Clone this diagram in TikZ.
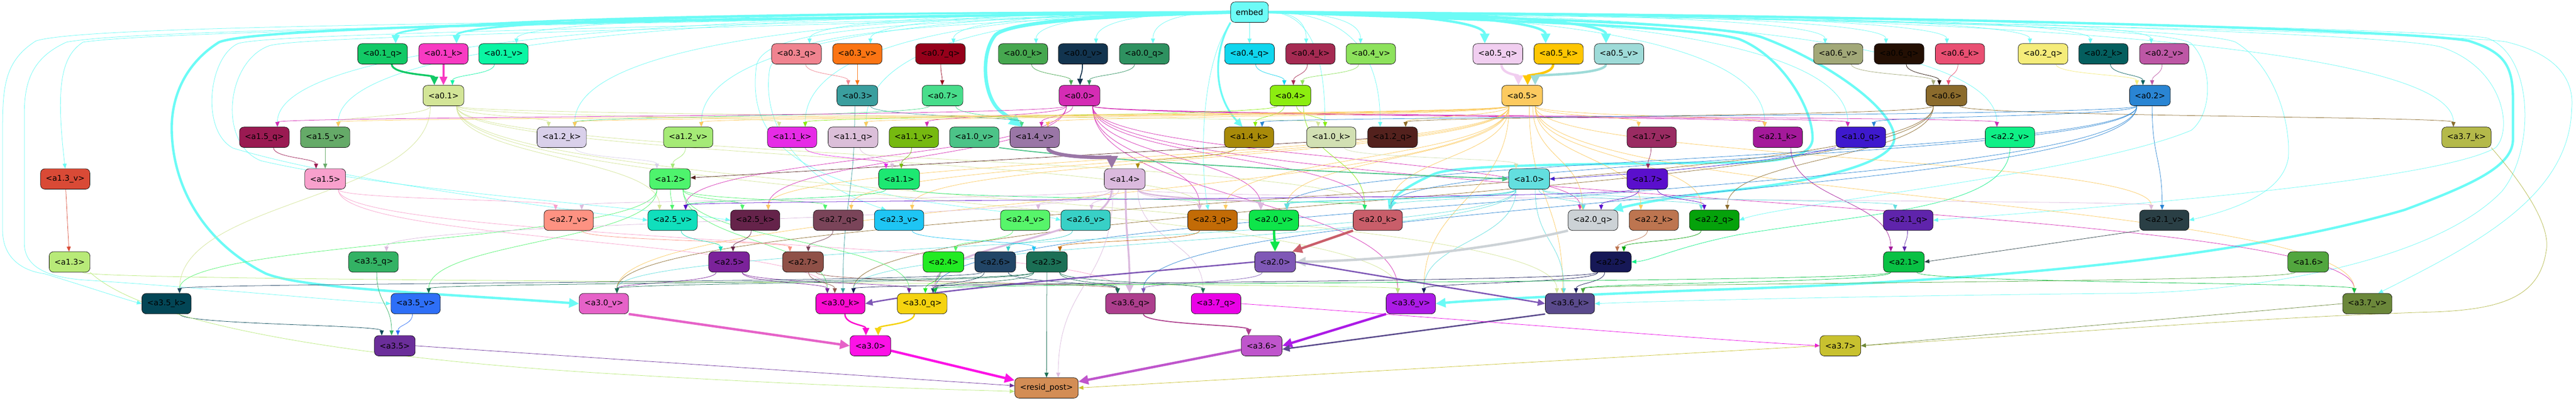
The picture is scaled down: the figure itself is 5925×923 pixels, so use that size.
\documentclass[tikz,border=0pt]{standalone}
\usepackage{fontspec}
\setmainfont{DejaVu Sans}
\usetikzlibrary{arrows.meta,calc}
\pgfdeclarelayer{bg}
\pgfsetlayers{bg,main}
\tikzset{
  nd/.style={draw=black,line width=0.8pt,rounded corners=10pt,minimum height=47pt,inner xsep=12pt,inner ysep=0pt,font=\fontsize{18}{20}\selectfont,text=black},
  ed/.style={line width=0.9pt,-{Triangle[length=9pt 2.5,width=7pt 2.5]}},
  w2/.style={line width=2.2pt},
  w3/.style={line width=3.2pt},
  w4/.style={line width=4.2pt},
  w5/.style={line width=5.5pt},
  w8/.style={line width=8pt},
  dn/.style={to path={let \p1=(\tikztostart.south), \p2=(\tikztotarget.north), \n1={\x1+max(-30,min(30,0.15*(\x2-\x1)))}, \n2={\x2+max(-30,min(30,0.15*(\x1-\x2)))}, \n3={0.5*\y1+0.5*\y2} in (\n1,\y1) .. controls (\n1,\n3) and (\n2,\n3) .. (\n2,\y2)}},
  eL/.style={to path={let \p1=(\tikztostart.west), \p2=(\tikztotarget.north), \n1={\x1-0.6*(\x1-\x2)}, \n2={\y2+0.7*(\y1-\y2)}, \n3={\x2+max(-30,min(30,0.1*(\x1-\x2)))} in (\p1) .. controls (\n1,\y1) and (\n3,\n2) .. (\n3,\y2)}},
  eR/.style={to path={let \p1=(\tikztostart.east), \p2=(\tikztotarget.north), \n1={\x1+0.6*(\x2-\x1)}, \n2={\y2+0.7*(\y1-\y2)}, \n3={\x2-max(-30,min(30,0.1*(\x2-\x1)))} in (\p1) .. controls (\n1,\y1) and (\n3,\n2) .. (\n3,\y2)}}
}
\newcommand\addnode[5]{\definecolor{C#1}{HTML}{#5}\node[nd,fill=C#1] (#1) at (#2,-#3) {#4};}
\newcommand\edgeA[3][]{\draw[ed,draw=C#2,#1] (#2) to[dn] (#3);}
\newcommand\edgeL[2][]{\draw[ed,draw=Cembed,#1] (embed) to[eL] (#2);}
\newcommand\edgeR[2][]{\draw[ed,draw=Cembed,#1] (embed) to[eR] (#2);}
\begin{document}
\begin{tikzpicture}[x=1pt,y=1pt]
\useasboundingbox (0,0) rectangle (5925,-923);
% ---------- nodes ----------
\addnode{embed}{2874}{28}{embed}{6CFBF6}
\addnode{a01q}{880}{124}{<a0.1\_q>}{12C966}
\addnode{a01k}{1020}{124}{<a0.1\_k>}{F83AC2}
\addnode{a01v}{1158}{124}{<a0.1\_v>}{0AF5A3}
\addnode{a03q}{1832}{124}{<a0.3\_q>}{F0838F}
\addnode{a03v}{1972}{124}{<a0.3\_v>}{FB7413}
\addnode{a07q}{2163}{124}{<a0.7\_q>}{95001A}
\addnode{a00k}{2353}{124}{<a0.0\_k>}{46A74F}
\addnode{a00v}{2491}{124}{<a0.0\_v>}{12344F}
\addnode{a00q}{2632}{124}{<a0.0\_q>}{2E9160}
\addnode{a04q}{2874}{124}{<a0.4\_q>}{10D6EE}
\addnode{a04k}{3014}{124}{<a0.4\_k>}{A52A52}
\addnode{a04v}{3153}{124}{<a0.4\_v>}{8DE25C}
\addnode{a05q}{3445}{124}{<a0.5\_q>}{F1CEF0}
\addnode{a05k}{3585}{124}{<a0.5\_k>}{FEC602}
\addnode{a05v}{3724}{124}{<a0.5\_v>}{9EDBD8}
\addnode{a06v}{4228}{124}{<a0.6\_v>}{A2A878}
\addnode{a06q}{4368}{124}{<a0.6\_q>}{230F03}
\addnode{a06k}{4508}{124}{<a0.6\_k>}{E94F72}
\addnode{a02q}{4699}{124}{<a0.2\_q>}{F5EC7A}
\addnode{a02k}{4838}{124}{<a0.2\_k>}{045E5E}
\addnode{a02v}{4978}{124}{<a0.2\_v>}{BD57A5}
\addnode{a01}{1020}{220}{<a0.1>}{D3E597}
\addnode{a03}{1972}{220}{<a0.3>}{3A9E9E}
\addnode{a07}{2168}{220}{<a0.7>}{48DD8B}
\addnode{a00}{2483}{220}{<a0.0>}{D42CB4}
\addnode{a04}{2968}{220}{<a0.4>}{8CED10}
\addnode{a05}{3501}{220}{<a0.5>}{FCCA5F}
\addnode{a06}{4477}{220}{<a0.6>}{8B6B2C}
\addnode{a02}{4945}{220}{<a0.2>}{2A85D3}
\addnode{a15q}{608}{316}{<a1.5\_q>}{9A1A52}
\addnode{a15v}{748}{316}{<a1.5\_v>}{65AA68}
\addnode{a12k}{1292}{316}{<a1.2\_k>}{D9D0EA}
\addnode{a12v}{1583}{316}{<a1.2\_v>}{A5EA76}
\addnode{a11k}{1822}{316}{<a1.1\_k>}{E62BE6}
\addnode{a11q}{1962}{316}{<a1.1\_q>}{DBBFD9}
\addnode{a11v}{2102}{316}{<a1.1\_v>}{76B910}
\addnode{a10v}{2241}{316}{<a1.0\_v>}{4CC388}
\addnode{a14v}{2380}{316}{<a1.4\_v>}{9A76A6}
\addnode{a14k}{2873}{316}{<a1.4\_k>}{A88A09}
\addnode{a10k}{3062}{316}{<a1.0\_k>}{D2E0B3}
\addnode{a12q}{3203}{316}{<a1.2\_q>}{53211D}
\addnode{a17v}{3799}{316}{<a1.7\_v>}{9A2B62}
\addnode{a21k}{4089}{316}{<a2.1\_k>}{A4199A}
\addnode{a10q}{4280}{316}{<a1.0\_q>}{3E19CE}
\addnode{a22v}{4623}{316}{<a2.2\_v>}{0FF086}
\addnode{a37k}{5673}{316}{<a3.7\_k>}{B4B94A}
\addnode{a13v}{150}{412}{<a1.3\_v>}{D94A36}
\addnode{a15}{748}{412}{<a1.5>}{F8A0CC}
\addnode{a12}{1541}{412}{<a1.2>}{4EF46D}
\addnode{a11}{2068}{412}{<a1.1>}{1DE872}
\addnode{a14}{2587}{412}{<a1.4>}{DBBADE}
\addnode{a10}{3517}{412}{<a1.0>}{63DFDF}
\addnode{a17}{3789}{412}{<a1.7>}{5A0FCC}
\addnode{a27v}{1308}{507}{<a2.7\_v>}{FD9282}
\addnode{a25v}{1547}{507}{<a2.5\_v>}{10DFBC}
\addnode{a25k}{1737}{507}{<a2.5\_k>}{65234A}
\addnode{a27q}{1928}{507}{<a2.7\_q>}{7A4459}
\addnode{a23v}{2068}{507}{<a2.3\_v>}{1EC5F4}
\addnode{a24v}{2358}{507}{<a2.4\_v>}{57F56A}
\addnode{a26v}{2497}{507}{<a2.6\_v>}{38D0C6}
\addnode{a23q}{2789}{507}{<a2.3\_q>}{C26B06}
\addnode{a20v}{2930}{507}{<a2.0\_v>}{0EE54A}
\addnode{a20k}{3169}{507}{<a2.0\_k>}{C95E6A}
\addnode{a20q}{3664}{507}{<a2.0\_q>}{CCD2D6}
\addnode{a22k}{3804}{507}{<a2.2\_k>}{BD7550}
\addnode{a22q}{3943}{507}{<a2.2\_q>}{05A20B}
\addnode{a21q}{4389}{507}{<a2.1\_q>}{5F24AB}
\addnode{a21v}{4978}{507}{<a2.1\_v>}{2A3F45}
\addnode{a13}{160}{603}{<a1.3>}{B8EA78}
\addnode{a35q}{859}{603}{<a3.5\_q>}{33B264}
\addnode{a25}{1677}{603}{<a2.5>}{7B229A}
\addnode{a27}{1847}{603}{<a2.7>}{8F5047}
\addnode{a24}{2170}{603}{<a2.4>}{22EA23}
\addnode{a26}{2289}{603}{<a2.6>}{224566}
\addnode{a23}{2408}{603}{<a2.3>}{1B6F55}
\addnode{a20}{2933}{603}{<a2.0>}{7F58B6}
\addnode{a22}{3705}{603}{<a2.2>}{161856}
\addnode{a21}{4379}{603}{<a2.1>}{09C144}
\addnode{a16}{5309}{603}{<a1.6>}{52A63E}
\addnode{a35k}{383}{699}{<a3.5\_k>}{034656}
\addnode{a35v}{956}{699}{<a3.5\_v>}{2E6FF7}
\addnode{a30v}{1389}{699}{<a3.0\_v>}{E662C8}
\addnode{a30k}{1933}{699}{<a3.0\_k>}{FB0BD0}
\addnode{a30q}{2121}{699}{<a3.0\_q>}{F5D30F}
\addnode{a36q}{2600}{699}{<a3.6\_q>}{AD3E8D}
\addnode{a37q}{2797}{699}{<a3.7\_q>}{EA02E6}
\addnode{a36v}{3245}{699}{<a3.6\_v>}{AC1BE6}
\addnode{a36k}{3611}{699}{<a3.6\_k>}{5A4A8C}
\addnode{a37v}{5445}{699}{<a3.7\_v>}{6B873A}
\addnode{a35}{908}{796}{<a3.5>}{6B2E9A}
\addnode{a30}{2002}{796}{<a3.0>}{FC12E6}
\addnode{a36}{2902}{796}{<a3.6>}{BF55CC}
\addnode{a37}{4233}{796}{<a3.7>}{C8C12F}
\addnode{resid}{2407}{893}{<resid\_post>}{D38D55}
% ---------- edges ----------
\begin{pgfonlayer}{bg}
\fill[white] (0,0) rectangle (5925,-923);
% embed -> row1
\edgeL[w4]{a01q}\edgeL[w4]{a01k}\edgeL{a01v}\edgeL{a03q}\edgeL{a03v}\edgeL{a07q}
\edgeL{a00k}\edgeL{a00v}\edgeL{a00q}
\draw[ed,draw=Cembed] (embed) -- (a04q);
\edgeR{a04k}\edgeR{a04v}\edgeR[w5]{a05q}\edgeR[w5]{a05k}\edgeR[w5]{a05v}
\edgeR{a06v}\edgeR{a06q}\edgeR{a06k}\edgeR{a02q}\edgeR{a02k}\edgeR{a02v}
% embed -> deeper
\edgeL{a15q}\edgeL{a15v}\edgeL{a12k}\edgeL{a12v}\edgeL{a11k}\edgeL{a11q}
\edgeR{a12q}\edgeR{a10k}\edgeR{a10q}\edgeR{a21k}\edgeR{a22v}\edgeR{a37k}
\draw[ed,draw=Cembed] (embed.west) .. controls (1000,-60) and (350,-75) .. (191,-97) .. controls (140,-130) and (128,-200) .. (a13v.north);
\draw[ed,draw=Cembed] (embed.west) .. controls (1000,-55) and (200,-60) .. (83,-94) .. controls (10,-140) and (6,-200) .. (6,-300) -- (6,-530) .. controls (6,-600) and (60,-625) .. (102,-630) .. controls (200,-660) and (290,-690) .. (a35k.west);
\draw[ed,draw=Cembed] (embed.west) .. controls (1000,-60) and (300,-70) .. (153,-97) .. controls (80,-130) and (56,-180) .. (56,-260) -- (56,-560) .. controls (56,-620) and (120,-640) .. (200,-645) .. controls (500,-665) and (750,-690) .. (a35v.west);
\draw[ed,draw=Cembed,w5] (embed.west) .. controls (1500,-45) and (600,-60) .. (504,-97) .. controls (420,-150) and (395,-230) .. (395,-294) .. controls (395,-430) and (470,-560) .. (612,-630) .. controls (700,-665) and (1000,-675) .. (a30v.west);
\draw[ed,draw=Cembed] (embed.west) .. controls (1200,-70) and (620,-80) .. (548,-100) .. controls (480,-130) and (460,-300) .. (536,-341) .. controls (800,-420) and (1300,-480) .. (a25v.west);
\draw[ed,draw=Cembed] (embed.west) .. controls (1300,-75) and (700,-85) .. (620,-105) .. controls (520,-140) and (500,-330) .. (600,-370) .. controls (900,-440) and (1500,-480) .. (a25k.west);
\draw[ed,draw=Cembed] (embed.west) .. controls (2000,-50) and (1760,-70) .. (1740,-150) .. controls (1720,-300) and (1800,-400) .. (2100,-460) .. controls (2300,-490) and (2400,-495) .. (a26v.west);
\draw[ed,draw=Cembed] (embed.west) .. controls (2100,-55) and (1790,-75) .. (1770,-160) .. controls (1750,-300) and (1850,-420) .. ([xshift=-30pt]a23v.north);
\draw[ed,draw=Cembed,w8] (embed.west) .. controls (2600,-35) and (2330,-45) .. (2290,-80) .. controls (2255,-120) and (2260,-220) .. (2300,-255) .. controls (2320,-270) and (2335,-280) .. ([xshift=-30pt]a14v.north);
\draw[ed,draw=Cembed,w4] (embed.south west) .. controls (2790,-120) and (2790,-220) .. ([xshift=-15pt]a14k.north);
\draw[ed,draw=Cembed] (embed.south west) .. controls (2760,-150) and (2760,-380) .. ([xshift=-10pt]a23q.north);
\draw[ed,draw=Cembed,w5] (embed.east) .. controls (3400,-45) and (3900,-60) .. (4000,-90) .. controls (4100,-130) and (4169,-250) .. (4169,-318) .. controls (4169,-360) and (4100,-372) .. (4000,-374) .. controls (3600,-378) and (3350,-380) .. (3300,-400) .. controls (3230,-430) and (3205,-455) .. ([xshift=25pt]a20k.north);
\draw[ed,draw=Cembed,w5] (embed.east) .. controls (3500,-40) and (3950,-55) .. (4050,-85) .. controls (4200,-140) and (4357,-250) .. (4357,-318) .. controls (4357,-380) and (4150,-420) .. (4000,-436) .. controls (3850,-452) and (3760,-470) .. ([xshift=-12pt]a20q.north east);
\draw[ed,draw=Cembed,w5] (embed.east) .. controls (4500,-35) and (5550,-70) .. (5678,-94) .. controls (5760,-120) and (5780,-150) .. (5780,-230) -- (5780,-320) .. controls (5780,-380) and (5700,-420) .. (5531,-483) .. controls (5200,-580) and (4700,-640) .. (4000,-665) .. controls (3700,-675) and (3400,-690) .. (a36v.east);
\draw[ed,draw=Cembed] (embed.east) .. controls (4500,-40) and (5550,-80) .. (5620,-110) .. controls (5760,-160) and (5780,-300) .. (5740,-340) .. controls (5600,-420) and (4800,-480) .. (a21q.east);
\draw[ed,draw=Cembed] (embed.east) .. controls (4500,-45) and (5080,-70) .. (5142,-97) .. controls (5230,-150) and (5270,-280) .. (5263,-365) .. controls (5250,-440) and (5150,-480) .. (a21v.east);
\draw[ed,draw=Cembed] (embed.east) .. controls (4600,-50) and (5700,-80) .. (5767,-97) .. controls (5900,-130) and (5920,-200) .. (5915,-250) .. controls (5910,-450) and (5700,-560) .. ([xshift=25pt]a37v.north);
\draw[ed,draw=Cembed] (embed.east) .. controls (4600,-40) and (5650,-70) .. (5722,-88) .. controls (5830,-130) and (5830,-350) .. (5754,-441) .. controls (5600,-600) and (5200,-670) .. (4900,-675) .. controls (4400,-680) and (3900,-690) .. (a36k.east);
\draw[ed,draw=Cembed] (embed.east) .. controls (4500,-40) and (5000,-70) .. (5040,-100) .. controls (5090,-150) and (5090,-260) .. (5040,-300) .. controls (4800,-400) and (4100,-470) .. (a22q.east);
% row1 -> row2
\edgeA[w4]{a01q}{a01}\edgeA[w4]{a01k}{a01}\edgeA{a01v}{a01}
\edgeA{a03q}{a03}\edgeA{a03v}{a03}\edgeA{a07q}{a07}
\edgeA{a00k}{a00}\edgeA[w2]{a00v}{a00}\edgeA{a00q}{a00}
\edgeA{a04q}{a04}\edgeA{a04k}{a04}\edgeA{a04v}{a04}
\edgeA[w5]{a05q}{a05}\edgeA[w5]{a05k}{a05}\edgeA[w5]{a05v}{a05}
\edgeA{a06v}{a06}\edgeA{a06q}{a06}\edgeA{a06k}{a06}
\edgeA{a02q}{a02}\edgeA{a02k}{a02}\edgeA{a02v}{a02}
% layer 0 heads
\edgeA{a01}{a15v}\edgeA{a01}{a12k}\edgeA{a01}{a11k}\edgeA{a01}{a10k}\edgeA{a01}{a35k}
\edgeA{a01}{a25v}\edgeA{a01}{a23q}\edgeA{a01}{a20k}\edgeA{a01}{a36k}\edgeA{a01}{a36v}
\edgeA{a03}{a14v}\edgeA{a03}{a30k}
\edgeA{a07}{a14v}\edgeA{a07}{a12k}
\edgeA{a00}{a15q}\edgeA{a00}{a14v}\edgeA{a00}{a11v}\edgeA{a00}{a10q}\edgeA{a00}{a21k}
\edgeA{a00}{a22v}\edgeA{a00}{a25v}\edgeA{a00}{a25k}\edgeA{a00}{a23q}\edgeA{a00}{a20v}
\edgeA{a00}{a20k}\edgeA{a00}{a20q}\edgeA{a00}{a36v}\edgeA{a00}{a37v}
\edgeA{a04}{a14k}\edgeA{a04}{a10k}\edgeA{a04}{a20k}\edgeA{a04}{a11k}
\edgeA{a05}{a15v}\edgeA{a05}{a12k}\edgeA{a05}{a12v}\edgeA{a05}{a11q}\edgeA{a05}{a14v}
\edgeA{a05}{a12q}\edgeA{a05}{a17v}\edgeA{a05}{a21k}\edgeA{a05}{a25k}\edgeA{a05}{a27q}
\edgeA{a05}{a23v}\edgeA{a05}{a23q}\edgeA{a05}{a20v}\edgeA{a05}{a20k}\edgeA{a05}{a20q}
\edgeA{a05}{a22k}\edgeA{a05}{a22q}\edgeA{a05}{a21v}\edgeA{a05}{a30v}\edgeA{a05}{a36v}
\edgeA{a05}{a36k}\edgeA{a05}{a37v}
\edgeA{a06}{a12q}\edgeA{a06}{a37k}\edgeA{a06}{a22q}\edgeA{a06}{a30v}\edgeA{a06}{a30k}
\edgeA{a02}{a14k}\edgeA{a02}{a10q}\edgeA{a02}{a20k}\edgeA{a02}{a20v}\edgeA{a02}{a21v}
\edgeA{a02}{a30q}\edgeA{a02}{a36q}
% layer 1 qkv -> heads
\edgeA{a15q}{a15}\edgeA{a15v}{a15}
\draw[ed,draw=Ca13v] (a13v) -- (a13);
\edgeA{a12k}{a12}\edgeA{a12v}{a12}
\draw[ed,draw=Ca12q] (a12q) -- (a12);
\edgeA{a11k}{a11}\edgeA{a11q}{a11}\edgeA{a11v}{a11}
\draw[ed,draw=Ca10v,w2] (a10v.south east) .. controls (2600,-380) and (3300,-405) .. (a10.west);
\draw[ed,draw=Ca10q] (a10q.south west) .. controls (4100,-370) and (3800,-400) .. (a10.east);
\edgeA{a10k}{a10}
\edgeA[w8]{a14v}{a14}\edgeA{a14k}{a14}
\edgeA{a17v}{a17}
\edgeA{a21k}{a21}
\draw[ed,draw=Ca22v] (a22v.south) .. controls (4623,-480) and (4300,-490) .. (4000,-540) .. controls (3850,-570) and (3800,-600) .. (a22.east);
\draw[ed,draw=Ca37k] (a37k.south east) .. controls (5800,-420) and (5870,-520) .. (5856,-580) .. controls (5840,-680) and (5760,-712) .. (5600,-718) .. controls (5200,-730) and (4700,-770) .. (a37.east);
% layer 1 heads
\edgeA{a15}{a27v}\edgeA{a15}{a36q}\edgeA{a15}{a30k}
\edgeA{a12}{a25v}\edgeA{a12}{a25k}\edgeA{a12}{a27q}\edgeA{a12}{a35v}\edgeA{a12}{a35k}
\edgeA{a12}{a30k}\edgeA{a12}{a30q}
\edgeA{a11}{a20k}\edgeA{a11}{a25v}
\edgeA{a14}{a27v}\edgeA{a14}{a24v}\edgeA{a14}{a26v}\edgeA{a14}{a23q}\edgeA[w3]{a14}{a20v}
\edgeA[w4]{a14}{a30q}\edgeA[w4]{a14}{a36q}\edgeA{a14}{a37q}\edgeA{a14}{a35q}\edgeA{a14}{a21v}
\edgeA{a10}{a20k}\edgeA{a10}{a20q}\edgeA{a10}{a22q}\edgeA{a10}{a21q}\edgeA[w2]{a10}{a20v}
\edgeA{a10}{a36v}\edgeA{a10}{a36k}\edgeA{a10}{a30v}\edgeA{a10}{a30k}
\edgeA{a17}{a20q}\edgeA{a17}{a22q}\edgeA{a17}{a25v}
\edgeA{a13}{a36v}
% layer 2 qkv -> heads
\edgeA{a27v}{a27}\edgeA{a27q}{a27}\edgeA{a25v}{a25}\edgeA{a25k}{a25}
\edgeA{a23v}{a23}\edgeA{a23q}{a23}\edgeA{a24v}{a24}\edgeA{a26v}{a26}
\edgeA[w5]{a20v}{a20}
\draw[ed,draw=Ca20k,w5] (a20k.south west) -- ([xshift=-8pt]a20.north east);
\draw[ed,draw=Ca20q,w5] (a20q.south west) .. controls (3400,-580) and (3150,-600) .. (a20.east);
\edgeA{a22k}{a22}\edgeA{a22q}{a22}\edgeA{a21q}{a21}
\draw[ed,draw=Ca21v] (a21v.south west) -- (a21.east);
% layer 2 heads
\edgeA{a25}{a30v}\edgeA{a25}{a30k}\edgeA{a25}{a30q}
\edgeA{a27}{a30k}\edgeA{a27}{a36q}
\edgeA{a24}{a30q}
\edgeA{a26}{a30q}\edgeA{a26}{a36q}\edgeA{a26}{a35k}
\edgeA{a23}{a30q}\edgeA{a23}{a36q}\edgeA{a23}{a37q}\edgeA{a23}{a30v}\edgeA{a23}{a35v}
\draw[ed,draw=Ca20,w3] (a20.east) -- (a36k.west);
\draw[ed,draw=Ca20,w3] (a20.west) .. controls (2600,-630) and (2200,-660) .. (a30k.east);
\edgeA{a20}{a36q}
\edgeA{a22}{a36v}\edgeA{a22}{a36k}\edgeA{a22}{a30k}
\edgeA{a21}{a37v}\edgeA{a21}{a30q}\edgeA{a21}{a36k}
\edgeA{a16}{a36k}
% layer 3
\edgeA{a35k}{a35}\edgeA{a35v}{a35}\edgeA{a35q}{a35}
\draw[ed,draw=Ca30v,w5] (a30v.south east) -- (a30.west);
\edgeA[w3]{a30k}{a30}\edgeA[w3]{a30q}{a30}
\edgeA[w2]{a36q}{a36}
\draw[ed,draw=Ca36v,w5] (a36v.south west) -- (a36.east);
\draw[ed,draw=Ca36k,w3] (a36k.south west) -- ([yshift=-8pt]a36.east);
\draw[ed,draw=Ca37q] (a37q.east) .. controls (3300,-730) and (3900,-780) .. (a37.west);
\draw[ed,draw=Ca37v] (a37v.west) -- (a37.east);
% resid
\draw[ed,draw=Ca35] (a35.east) -- ([yshift=5pt]resid.west);
\draw[ed,draw=Ca30,w5] (a30) -- (resid);
\draw[ed,draw=Ca36,w5] (a36) -- (resid);
\draw[ed,draw=Ca37] (a37.west) -- (resid.east);
\draw[ed,draw=Ca13] (a13.south east) .. controls (350,-760) and (900,-830) .. (1400,-860) .. controls (1900,-890) and (2200,-897) .. ([yshift=-8pt]resid.west);
\draw[ed,draw=Ca23] (a23) -- (resid);
\edgeA{a14}{resid}
\end{pgfonlayer}
\end{tikzpicture}
\end{document}
